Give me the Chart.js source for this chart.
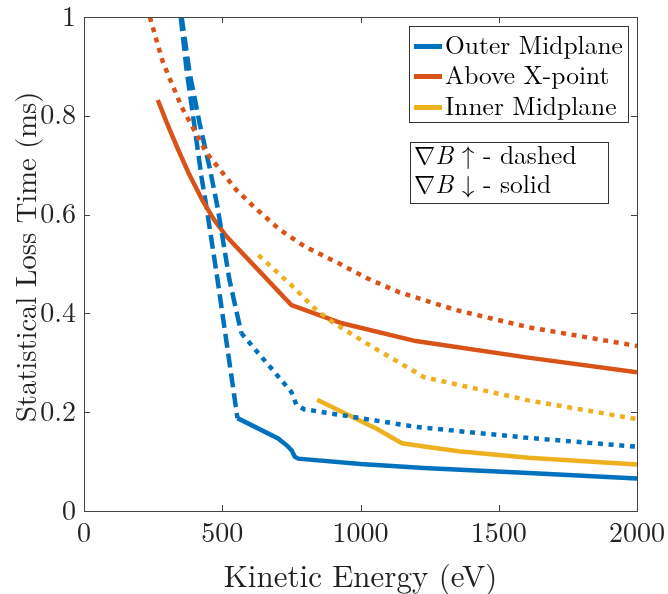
<!DOCTYPE html>
<html>
<head>
<meta charset="utf-8">
<script src="https://cdn.jsdelivr.net/npm/chart.js@4"></script>
<style>
  body { margin: 0; background: #fff; }
  #wrap { position: relative; width: 668px; height: 594px; }
  .box { position: absolute; border: 1px solid #333; background: #fff;
         font-family: "Latin Modern Roman", "Liberation Serif", serif; font-size: 25.5px; color: #000; }
  .row { position: absolute; left: 0; white-space: nowrap; line-height: 1; }
  .sym { font-family: "Latin Modern Math", "STIX Two Math", "Liberation Serif", serif; }
  .swatch { display: inline-block; width: 28px; height: 4.5px; vertical-align: middle;
            margin: 0 3px 0 4px; position: relative; top: -2px; }
</style>
</head>
<body>
<div id="wrap">
  <canvas id="lossChart" width="668" height="594"></canvas>
  <div class="box" style="left:409px; top:26px; width:218px; height:95px;">
    <div class="row" style="top:4px;"><span class="swatch" style="background:#0072BD"></span>Outer Midplane</div>
    <div class="row" style="top:34px;"><span class="swatch" style="background:#D95319"></span>Above X-point</div>
    <div class="row" style="top:65px;"><span class="swatch" style="background:#EDB120"></span>Inner Midplane</div>
  </div>
  <div class="box" style="left:410px; top:142px; width:197px; height:60px;">
    <div class="row" style="top:-2px; left:3px;"><span class="sym">∇</span><i>B</i> <span class="sym">↑</span> - dashed</div>
    <div class="row" style="top:27px; left:3px;"><span class="sym">∇</span><i>B</i> <span class="sym">↓</span> - solid</div>
  </div>
</div>
<script>
// values: [energy (eV), loss time (ms)]
const outerUp = [[353, 1.0], [382, 0.887], [418, 0.785], [454, 0.696], [483, 0.615], [526, 0.468], [569, 0.360],
    [750, 0.241], [768, 0.215], [796, 0.206], [1000, 0.188], [1204, 0.170], [1607, 0.148], [2000, 0.130]];
const outerDown = [[350, 1.0], [371, 0.893], [400, 0.777], [425, 0.676], [443, 0.615], [483, 0.468], [555, 0.188],
    [702, 0.147], [735, 0.132], [752, 0.122], [762, 0.110], [775, 0.106], [1000, 0.095], [1229, 0.087], [1607, 0.077], [2000, 0.066]];
const xpointUp = [[238, 1.0], [285, 0.909], [353, 0.818], [443, 0.725], [551, 0.650], [616, 0.615], [709, 0.569],
    [800, 0.535], [926, 0.500], [1020, 0.472], [1139, 0.443], [1344, 0.407], [1607, 0.372], [2000, 0.334]];
const xpointDown = [[267, 0.832], [300, 0.785], [340, 0.732], [380, 0.682], [429, 0.628], [470, 0.590], [515, 0.556],
    [750, 0.417], [933, 0.380], [1200, 0.344], [1600, 0.311], [2000, 0.281]];
const innerUp = [[631, 0.518], [750, 0.457], [840, 0.407], [905, 0.380], [1020, 0.340], [1229, 0.271], [1607, 0.224], [2000, 0.186]];
const innerDown = [[843, 0.225], [1060, 0.166], [1150, 0.137], [1250, 0.129], [1355, 0.121], [1607, 0.108], [2000, 0.094]];

const xTicks = [0, 500, 1000, 1500, 2000];
const yTicks = [0, 0.2, 0.4, 0.6, 0.8, 1];

const BLUE = '#0072BD', ORANGE = '#D95319', YELLOW = '#EDB120';
const DOT = [5, 5.7];
const DASH = [14, 6];

const toPts = arr => arr.map(([x, y]) => ({ x, y }));

// the steep part of the outer midplane curves shows as long dashes
const steepUntil = (lastIdx, after) => ({
    borderDash: ctx => ctx.p1DataIndex <= lastIdx ? DASH : after
});

function line(data, color, dash, extra) {
    return Object.assign({
        data: toPts(data),
        borderColor: color,
        borderWidth: 4.5,
        borderDash: dash,
        pointRadius: 0,
        tension: 0,
        fill: false,
        clip: 0
    }, extra || {});
}

const axisBox = {
    id: 'axisBox',
    afterDatasetsDraw(chart) {
        const { ctx, chartArea: a, scales } = chart;
        ctx.save();
        ctx.strokeStyle = '#444';
        ctx.lineWidth = 1;
        ctx.beginPath();
        xTicks.forEach(v => {
            const px = Math.round(scales.x.getPixelForValue(v)) + 0.5;
            ctx.moveTo(px, a.bottom); ctx.lineTo(px, a.bottom - 6);
            ctx.moveTo(px, a.top); ctx.lineTo(px, a.top + 6);
        });
        yTicks.forEach(v => {
            const py = Math.round(scales.y.getPixelForValue(v)) + 0.5;
            ctx.moveTo(a.left, py); ctx.lineTo(a.left + 6, py);
            ctx.moveTo(a.right, py); ctx.lineTo(a.right - 6, py);
        });
        ctx.stroke();
        ctx.strokeRect(Math.round(a.left) + 0.5, Math.round(a.top) + 0.5,
            Math.round(a.right - a.left), Math.round(a.bottom - a.top));
        ctx.restore();
    }
};

const serif = '"Latin Modern Roman", "Liberation Serif", serif';

new Chart(document.getElementById('lossChart').getContext('2d'), {
    type: 'line',
    data: {
        datasets: [
            line(xpointUp, ORANGE, DOT),
            line(innerUp, YELLOW, DOT),
            line(outerUp, BLUE, DOT, { segment: steepUntil(6, undefined) }),
            line(xpointDown, ORANGE, []),
            line(innerDown, YELLOW, []),
            line(outerDown, BLUE, [], { segment: steepUntil(6, undefined) })
        ]
    },
    options: {
        responsive: false,
        animation: false,
        layout: { padding: { top: 17, right: 31, left: 0, bottom: 0 } },
        plugins: { legend: { display: false }, tooltip: { enabled: false } },
        scales: {
            x: {
                type: 'linear',
                min: 0,
                max: 2000,
                afterFit: s => { s.height = 83; s.paddingLeft = 0; s.paddingRight = 0; },
                afterBuildTicks: s => { s.ticks = xTicks.map(v => ({ value: v })); },
                grid: { display: false, drawTicks: false },
                border: { display: false },
                ticks: { color: '#222', padding: 6, maxRotation: 0, callback: v => String(v), font: { family: serif, size: 28 } },
                title: {
                    display: true,
                    text: 'Kinetic Energy (eV)',
                    color: '#222',
                    padding: { top: 0, bottom: 1 },
                    font: { family: serif, size: 31, lineHeight: 1 }
                }
            },
            y: {
                min: 0,
                max: 1,
                afterFit: s => { s.width = 84; s.paddingTop = 0; s.paddingBottom = 0; },
                afterBuildTicks: s => { s.ticks = yTicks.map(v => ({ value: v })); },
                grid: { display: false, drawTicks: false },
                border: { display: false },
                ticks: { color: '#222', padding: 8, callback: v => String(v), font: { family: serif, size: 28 } },
                title: {
                    display: true,
                    text: '\u2002Statistical Loss Time (ms)',
                    color: '#222',
                    padding: { top: 13, bottom: 0 },
                    font: { family: serif, size: 28.5, lineHeight: 1 }
                }
            }
        }
    },
    plugins: [axisBox]
});
</script>
</body>
</html>
